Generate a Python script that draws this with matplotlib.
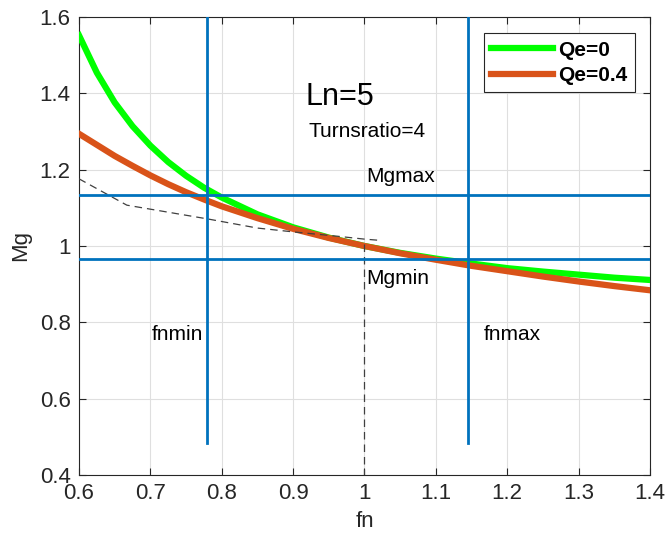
import matplotlib
matplotlib.use("Agg")
import matplotlib.pyplot as plt

plt.rcParams['font.family'] = ['Liberation Sans', 'DejaVu Sans']

# gain curves, Ln=5
fn = [0.600, 0.625, 0.650, 0.675, 0.700, 0.725, 0.750, 0.775, 0.800, 0.850,
      0.900, 0.950, 1.000, 1.050, 1.100, 1.150, 1.200, 1.250, 1.300, 1.350, 1.400]
mg_qe0 = [1.552, 1.454, 1.376, 1.314, 1.263, 1.220, 1.184, 1.153, 1.127, 1.083,
          1.049, 1.022, 1.000, 0.982, 0.967, 0.954, 0.942, 0.933, 0.925, 0.917, 0.911]
mg_qe04 = [1.294, 1.265, 1.236, 1.210, 1.185, 1.162, 1.141, 1.122, 1.104, 1.073,
           1.045, 1.021, 1.000, 0.981, 0.964, 0.948, 0.934, 0.920, 0.907, 0.895, 0.884]

# dashed guide
dash_fn = [0.60, 0.667, 0.78, 0.85, 0.90, 0.96, 1.00, 1.02]
dash_mg = [1.176, 1.107, 1.071, 1.047, 1.037, 1.026, 1.018, 1.015]
vdash_fn = [1.0, 1.0]
vdash_mg = [1.005, 0.4]

fnmin, fnmax = 0.779, 1.145
mgmin, mgmax = 0.966, 1.134
vline_mg = [0.485, 1.65]
series_labels = ['Qe=0', 'Qe=0.4']

GREEN = '#00FF00'
ORANGE = '#D95319'
BLUE = '#0072BD'
DARK = '#262626'

fig = plt.figure(figsize=(6.65, 5.39), dpi=100)
ax = fig.add_axes([0.1188, 0.1187, 0.8586, 0.8498])

ax.plot(fn, mg_qe0, color=GREEN, lw=4.5, label=series_labels[0], zorder=3)
ax.plot(fn, mg_qe04, color=ORANGE, lw=4.5, label=series_labels[1], zorder=3)

ax.plot(dash_fn, dash_mg, color='#404040', lw=0.9, ls=(0, (6, 4)), zorder=4)
ax.plot(vdash_fn, vdash_mg, color='#404040', lw=0.9, ls=(0, (6, 4)), zorder=4)

ax.plot([fnmin, fnmin], vline_mg, color=BLUE, lw=2.0, zorder=5)
ax.plot([fnmax, fnmax], vline_mg, color=BLUE, lw=2.0, zorder=5)
ax.axhline(mgmax, color=BLUE, lw=2.0, zorder=5)
ax.axhline(mgmin, color=BLUE, lw=2.0, zorder=5)

ax.text(0.917, 1.39, 'Ln=5', fontsize=22, va='center', ha='left', color='black')
ax.text(0.921, 1.30, 'Turnsratio=4', fontsize=15, va='center', ha='left', color='black')
ax.text(1.002, 1.183, 'Mgmax', fontsize=15, va='center', ha='left', color='black')
ax.text(1.002, 0.914, 'Mgmin', fontsize=15, va='center', ha='left', color='black')
ax.text(0.702, 0.767, 'fnmin', fontsize=15, va='center', ha='left', color='black')
ax.text(1.167, 0.767, 'fnmax', fontsize=15, va='center', ha='left', color='black')

ax.set_xlim(0.6, 1.4)
ax.set_ylim(0.4, 1.6)
ax.set_xticks([0.6, 0.7, 0.8, 0.9, 1.0, 1.1, 1.2, 1.3, 1.4])
ax.set_xticklabels(['0.6', '0.7', '0.8', '0.9', '1', '1.1', '1.2', '1.3', '1.4'])
ax.set_yticks([0.4, 0.6, 0.8, 1.0, 1.2, 1.4, 1.6])
ax.set_yticklabels(['0.4', '0.6', '0.8', '1', '1.2', '1.4', '1.6'])
ax.tick_params(direction='in', length=5, labelsize=16, colors=DARK, width=0.8, pad=6,
               top=True, right=True)
ax.grid(True, color='#DFDFDF', lw=0.8)
ax.set_axisbelow(True)
for s in ax.spines.values():
    s.set_color(DARK)
    s.set_linewidth(0.8)

ax.set_xlabel('fn', fontsize=16, color=DARK, labelpad=5)
ax.set_ylabel('Mg', fontsize=16, color=DARK, labelpad=6)

leg = ax.legend(loc='upper right', bbox_to_anchor=(0.974, 0.964), fancybox=False,
                edgecolor=DARK, framealpha=1, handlelength=3.0, borderpad=0.35,
                labelspacing=0.3, handletextpad=0.25, borderaxespad=0,
                prop={'weight': 'bold', 'size': 15})
leg.get_frame().set_linewidth(0.8)
for h in leg.get_lines():
    h.set_linewidth(4.5)
leg.set_zorder(10)

fig.savefig('out.png', dpi=100)
